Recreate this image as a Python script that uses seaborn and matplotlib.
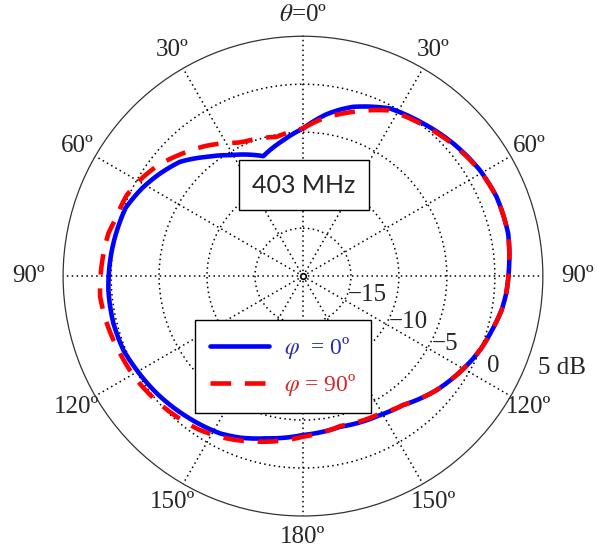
import numpy as np
import matplotlib
matplotlib.use("Agg")
import matplotlib.pyplot as plt
import seaborn as sns

# measured pattern (theta clockwise from top, deg) -> gain (dB)
theta_phi0 = [0, 8.3, 12.7, 16.5, 27.4, 38.2, 48.6, 59.1, 67.7, 78.3, 87.4, 95, 99.7, 106.5, 112, 117, 130.5,
              142.1, 151, 166.2, 180, 192.6, 201.3, 207.8, 219.6, 231.3, 240.5, 247.6, 256, 265.9,
              277.7, 291.1, 298.7, 305.1, 312.9, 321.1, 328.9, 341.7, 351.8, 360]
gain_phi0 = [-4.61, -2.95, -2.2, -1.6, -0.32, 0.25, 0.89, 1.49, 1.8, 1.84, 1.5, 1.25, 1.0, 0.45, 0.05, -0.4, -1.7,
             -2.98, -3.45, -3.83, -3.44, -2.68, -1.93, -1.47, -0.99, -0.47, -0.1, 0.24, 0.36, 0.33,
             0.1, -0.2, -0.9, -1.6, -2.5, -4.03, -5.28, -6.83, -5.69, -4.61]

theta_phi90 = [0, 7.3, 17, 22.9, 27.4, 38.2, 48.6, 59.1, 67.7, 78.3, 87.4, 95, 99.7, 106.5, 112, 117, 130.5,
               142.1, 152, 166, 180, 194.5, 205.2, 214, 226.9, 238, 247.1, 256.5, 264.2, 270,
               282.4, 286.6, 294.7, 301.9, 307.5, 314.7, 323.5, 333.6, 336, 349.3, 360]
gain_phi90 = [-4.61, -3.44, -2.1, -1.22, -0.55, 0.1, 0.8, 1.45, 1.8, 1.84, 1.5, 1.25, 1.0, 0.45, 0.05, -0.4, -1.7,
              -2.98, -3.6, -3.9, -3.26, -2.17, -1.31, -0.68, -0.07, 0.43, 0.7, 1.03, 1.25, 1.1,
              0.76, 0.44, 0.21, -0.41, -1.0, -1.98, -3.1, -4.49, -4.69, -5.23, -4.61]

angle_ticks = [0, 30, 60, 90, 120, 150, 180, 210, 240, 270, 300, 330]
angle_labels = [r"$\theta$=0º", "30º", "60º", "90º", "120º", "150º", "180º",
                "150º", "120º", "90º", "60º", "30º"]
r_ticks = [-15, -10, -5, 0]
r_labels = ["\u221215", "\u221210", "\u22125", "0", "5 dB"]
r_label_pos = [(106.4, -13.0), (113.3, -8.0), (115.4, -3.6), (115.3, 1.9), (109.6, 8.6)]

sns.set_style("white")
plt.rcParams["font.family"] = ["Liberation Serif", "DejaVu Serif"]
plt.rcParams["mathtext.fontset"] = "stix"

fig = plt.figure(figsize=(5.97, 5.54), dpi=100)
ax = fig.add_axes([0.1055, 0.0686, 0.804, 0.866], projection="polar")
ax.set_theta_zero_location("N")
ax.set_theta_direction(-1)
ax.set_ylim(-20, 5)

ax.set_xticks(np.radians(angle_ticks))
ax.set_xticklabels([])
ax.set_yticks(r_ticks)
ax.set_yticklabels([])
ax.grid(True, color="k", linestyle=(0, (1, 2.2)), linewidth=1.1)
ax.spines["polar"].set_color("#333333")
ax.spines["polar"].set_linewidth(0.9)

sns.lineplot(x=np.radians(theta_phi0), y=gain_phi0, ax=ax, sort=False, estimator=None,
             color="#0000ff", linewidth=3.3, label=r"$\varphi$  = 0º")
sns.lineplot(x=np.radians(theta_phi90), y=gain_phi90, ax=ax, sort=False, estimator=None,
             color="#ff0000", linewidth=3.3, label=r"$\varphi$ = 90º")
ax.lines[-1].set_dashes([4.5, 3])
for ln in ax.lines[-2:]:
    ln.get_path()._interpolation_steps = 20

ax.plot(0, -20, marker="o", ms=4, mfc="white", mec="k", mew=1.2)

for a, lab in zip(angle_ticks, angle_labels):
    rr = 8.6 if a in (90, 270) else 7.2
    ax.text(np.radians(a), rr, lab, ha="center", va="center", fontsize=18, clip_on=False)

for (a, rv), lab in zip(r_label_pos, r_labels):
    ax.text(np.radians(a), rv, lab, ha="center", va="center", fontsize=18, clip_on=False)

leg = ax.legend(loc="upper left", bbox_to_anchor=(195 / 597, 1 - 320 / 554), bbox_transform=fig.transFigure,
                fontsize=17, frameon=True, fancybox=False, framealpha=1, edgecolor="k",
                handlelength=2.5, handletextpad=0.6, borderpad=0.65, labelspacing=0.45,
                borderaxespad=0)
leg.get_frame().set_linewidth(1.0)
for txt, c in zip(leg.get_texts(), ["#2d2db0", "#d42a2a"]):
    txt.set_color(c)

fig.text(304 / 597, 1 - 185 / 554, "403 MHz", ha="center", va="center", fontsize=18,
         family="Lato", bbox=dict(boxstyle="square,pad=0.55", fc="white", ec="k", lw=1.0))

fig.savefig("out.png", dpi=100)
